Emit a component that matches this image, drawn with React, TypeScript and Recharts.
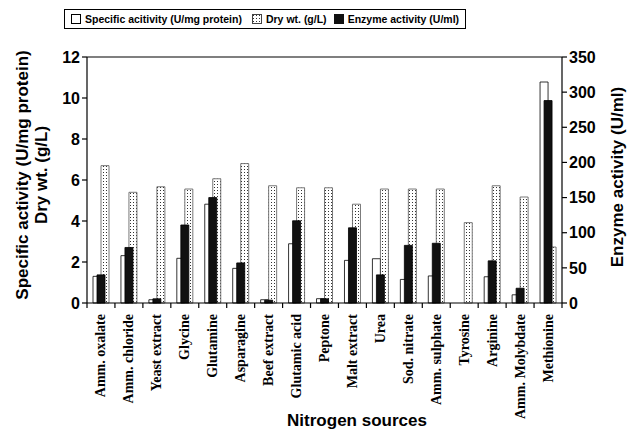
import React from "react";
import {
  BarChart,
  Bar,
  XAxis,
  YAxis,
  ReferenceLine,
  Label,
} from "recharts";

const sources = [
  "Amm. oxalate",
  "Amm. chloride",
  "Yeast extract",
  "Glycine",
  "Glutamine",
  "Asparagine",
  "Beef extract",
  "Glutamic acid",
  "Peptone",
  "Malt extract",
  "Urea",
  "Sod. nitrate",
  "Amm. sulphate",
  "Tyrosine",
  "Arginine",
  "Amm. Molybdate",
  "Methionine",
];
const specificActivity = [1.3, 2.31, 0.16, 2.18, 4.82, 1.69, 0.16, 2.89, 0.21, 2.08, 2.16, 1.15, 1.32, 0, 1.28, 0.4, 10.78];
const dryWeight = [6.7, 5.4, 5.67, 5.56, 6.06, 6.8, 5.72, 5.62, 5.62, 4.82, 5.56, 5.56, 5.56, 3.92, 5.72, 5.17, 2.73];
const enzymeActivity = [40, 79, 6, 111, 150, 57, 4, 117, 6, 107, 40, 82, 85, 0, 60, 21, 288];

const leftTicks = [0, 2, 4, 6, 8, 10, 12];
const rightTicks = [0, 50, 100, 150, 200, 250, 300, 350];

const data = sources.map((name, i) => ({
  name,
  specific: specificActivity[i],
  dry: dryWeight[i],
  enzyme: enzymeActivity[i],
}));

const W = 635;
const H = 435;
const PLOT_LEFT = 87;
const PLOT_RIGHT = 562;
const PLOT_TOP = 57;
const PLOT_BOTTOM = 303;
const BAND = (PLOT_RIGHT - PLOT_LEFT) / sources.length;
const SANS = "'Liberation Sans', Arial, sans-serif";
const SERIF = "'Liberation Serif', 'Times New Roman', serif";

const CategoryTick = (props: any) => {
  const { x, payload, index } = props;
  const left = x - BAND / 2;
  return (
    <g>
      <line x1={left} x2={left} y1={PLOT_BOTTOM} y2={PLOT_BOTTOM + 5} stroke="#000" strokeWidth={1.2} />
      {index === sources.length - 1 && (
        <line x1={x + BAND / 2} x2={x + BAND / 2} y1={PLOT_BOTTOM} y2={PLOT_BOTTOM + 5} stroke="#000" strokeWidth={1.2} />
      )}
      <text
        x={x}
        y={PLOT_BOTTOM + 11}
        transform={`rotate(-90, ${x}, ${PLOT_BOTTOM + 11})`}
        textAnchor="end"
        dominantBaseline="central"
        fontFamily={SERIF}
        fontWeight="bold"
        fontSize={14}
        fill="#000"
      >
        {payload.value}
      </text>
    </g>
  );
};

const LegendBox = () => {
  const item = (swatch: React.ReactNode, text: string, gap: number) => (
    <span style={{ display: "inline-flex", alignItems: "center", marginRight: gap }}>
      {swatch}
      <span style={{ marginLeft: 4 }}>{text}</span>
    </span>
  );
  return (
    <div
      style={{
        position: "absolute",
        left: 64,
        top: 9,
        border: "1.5px solid #000",
        padding: "3px 6px",
        fontFamily: SANS,
        fontWeight: "bold",
        fontSize: 10.5,
        whiteSpace: "nowrap",
        display: "inline-flex",
        alignItems: "center",
        background: "#fff",
        zIndex: 2,
      }}
    >
      {item(
        <svg width={10} height={10}>
          <rect x={0.5} y={0.5} width={9} height={9} fill="#fff" stroke="#000" />
        </svg>,
        "Specific acitivity (U/mg protein)",
        10
      )}
      {item(
        <svg width={10} height={10}>
          <defs>
            <pattern id="dotsLegend" patternUnits="userSpaceOnUse" width={3} height={3}>
              <rect x={1} y={1} width={1} height={1} fill="#333" />
            </pattern>
          </defs>
          <rect x={0.5} y={0.5} width={9} height={9} fill="url(#dotsLegend)" stroke="#444" />
        </svg>,
        "Dry wt. (g/L)",
        7
      )}
      {item(
        <svg width={10} height={10}>
          <rect x={0} y={0} width={10} height={10} fill="#111" />
        </svg>,
        "Enzyme activity (U/ml)",
        0
      )}
    </div>
  );
};

export default function App() {
  return (
    <div style={{ position: "absolute", left: 0, top: 0, width: W, height: H, background: "#fff" }}>
      <LegendBox />
      <BarChart
        width={W}
        height={H}
        data={data}
        barGap={0}
        margin={{ top: PLOT_TOP, right: 0, left: 0, bottom: 0 }}
      >
        <defs>
          <pattern id="dotsBar" patternUnits="userSpaceOnUse" width={3} height={3}>
            <rect x={1} y={1} width={1} height={1} fill="#333" />
          </pattern>
        </defs>
        <XAxis
          xAxisId={0}
          dataKey="name"
          interval={0}
          tickLine={false}
          axisLine={{ stroke: "#000", strokeWidth: 1.2 }}
          tick={<CategoryTick />}
          height={H - PLOT_BOTTOM}
        >
          <Label
            content={() => (
              <text x={357} y={426} textAnchor="middle" fontFamily={SANS} fontWeight="bold" fontSize={17} fill="#000">
                Nitrogen sources
              </text>
            )}
          />
        </XAxis>
        <XAxis xAxisId={1} dataKey="name" hide />
        <YAxis
          yAxisId="left"
          domain={[0, 12]}
          ticks={leftTicks}
          width={PLOT_LEFT}
          tickSize={5}
          tickLine={{ stroke: "#000", strokeWidth: 1.2 }}
          axisLine={{ stroke: "#000", strokeWidth: 1.2 }}
          tick={{ fill: "#000", fontFamily: SANS, fontWeight: "bold", fontSize: 16 }}
        >
          <Label
            content={() => (
              <g fontFamily={SANS} fontWeight="bold" fontSize={17} fill="#000">
                <text x={22} y={175} transform="rotate(-90, 22, 175)" textAnchor="middle" dominantBaseline="central">
                  Specific activity (U/mg protein)
                </text>
                <text x={41} y={175} transform="rotate(-90, 41, 175)" textAnchor="middle" dominantBaseline="central">
                  Dry wt. (g/L)
                </text>
              </g>
            )}
          />
        </YAxis>
        <YAxis
          yAxisId="right"
          orientation="right"
          domain={[0, 350]}
          ticks={rightTicks}
          width={W - PLOT_RIGHT}
          tickSize={5}
          tickLine={{ stroke: "#000", strokeWidth: 1.2 }}
          axisLine={{ stroke: "#000", strokeWidth: 1.2 }}
          tick={{ fill: "#000", fontFamily: SANS, fontWeight: "bold", fontSize: 16 }}
        >
          <Label
            content={() => (
              <text
                x={617}
                y={177}
                transform="rotate(-90, 617, 177)"
                textAnchor="middle"
                dominantBaseline="central"
                fontFamily={SANS}
                fontWeight="bold"
                fontSize={17}
                fill="#000"
              >
                Enzyme activity (U/ml)
              </text>
            )}
          />
        </YAxis>
        <ReferenceLine yAxisId="left" xAxisId={0} y={12} stroke="#000" strokeWidth={1.2} />
        <Bar
          xAxisId={0}
          yAxisId="left"
          dataKey="specific"
          barSize={8}
          fill="#fff"
          stroke="#000"
          strokeWidth={0.8}
          isAnimationActive={false}
        />
        <Bar
          xAxisId={0}
          yAxisId="left"
          dataKey="dry"
          barSize={8}
          fill="url(#dotsBar)"
          stroke="#555"
          strokeWidth={0.8}
          isAnimationActive={false}
        />
        <Bar
          xAxisId={1}
          yAxisId="right"
          dataKey="enzyme"
          barSize={8}
          fill="#111"
          stroke="#000"
          strokeWidth={0.8}
          isAnimationActive={false}
        />
      </BarChart>
    </div>
  );
}
